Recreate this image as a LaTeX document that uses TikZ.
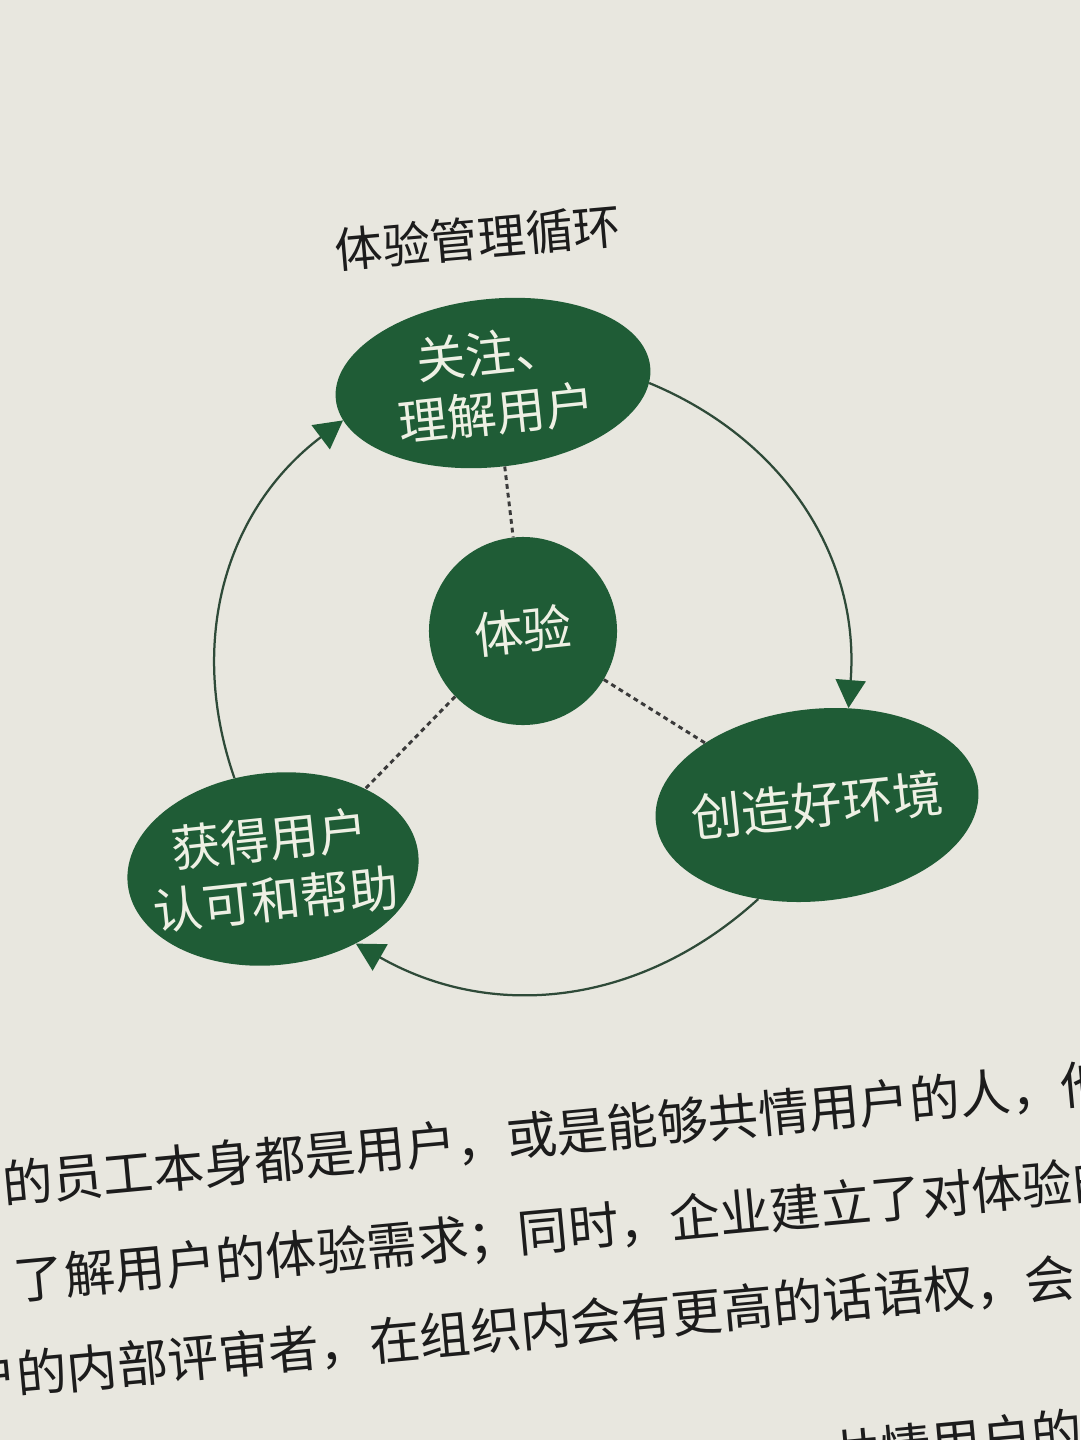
\documentclass[tikz,border=0pt]{standalone}
\usepackage{fontspec}
\setmainfont{Noto Sans CJK SC}
\usetikzlibrary{shapes.geometric,arrows.meta}
\definecolor{paper}{HTML}{E8E7DF}
\definecolor{leaf}{HTML}{1F5C36}
\definecolor{arcline}{HTML}{2E4A38}
\definecolor{ink}{HTML}{1C1C1C}
\definecolor{dotline}{HTML}{3A3A3A}
\definecolor{nodetext}{HTML}{EEF0E4}
\tikzset{
  blob/.style={ellipse, fill=leaf, draw=none, inner sep=-1.5cm, text=nodetext, align=center,
    font=\fontsize{35pt}{43pt}\selectfont, rotate=6},
  hubnode/.style={circle, fill=leaf, draw=none, inner sep=-1cm, minimum size=4.7cm, text=nodetext,
    font=\fontsize{35pt}{43pt}\selectfont, rotate=6},
  cycle/.style={draw=arcline, line width=1.6pt, bend left=36,
    -{Triangle[length=0.7cm,width=0.75cm,color=leaf]}},
  link/.style={draw=dotline, line width=2.1pt, dash pattern=on 0.12cm off 0.1cm},
  bodyline/.style={anchor=west, text=ink, font=\fontsize{36pt}{40pt}\selectfont, rotate=5.3, inner sep=0pt},
  titletext/.style={text=ink, font=\fontsize{34pt}{40pt}\selectfont, rotate=5, inner sep=0pt}
}
\begin{document}
\begin{tikzpicture}[x=0.025cm,y=0.025cm]
\useasboundingbox (0,0) rectangle (1080,-1440);
\clip (0,0) rectangle (1080,-1440);
\fill[paper] (0,0) rectangle (1080,-1440);

\node[titletext] (title) at (478,-238) {体验管理循环};

\node[blob, minimum width=7.9cm, minimum height=4.2cm] (top) at (493,-383) {关注、\\理解用户};
\node[blob, minimum width=8.1cm, minimum height=4.8cm, font=\fontsize{36pt}{43pt}\selectfont] (right) at (817,-805) {创造好环境};
\node[blob, minimum width=7.3cm, minimum height=4.8cm] (left) at (273,-869) {获得用户\\认可和帮助};
\node[hubnode] (hub) at (523,-631) {体验};

\draw[link] (top.-88) -- (hub.90);
\draw[link] (hub.-37) -- (right.145);
\draw[link] (hub.218) -- (left.35);

\draw[cycle] (top.-6) to (right.66);
\draw[cycle] (right.232) to (left.-48);
\draw[cycle] (left.107) to (top.188);

\node[bodyline] (l1) at (2,-1185) {的员工本身都是用户，或是能够共情用户的人，他};
\node[bodyline] (l2) at (14,-1282) {了解用户的体验需求；同时，企业建立了对体验的};
\node[bodyline] (l3) at (-34,-1380) {户的内部评审者，在组织内会有更高的话语权，会};
\node[bodyline] (l4) at (830,-1454) {共情用户的};
\end{tikzpicture}
\end{document}
